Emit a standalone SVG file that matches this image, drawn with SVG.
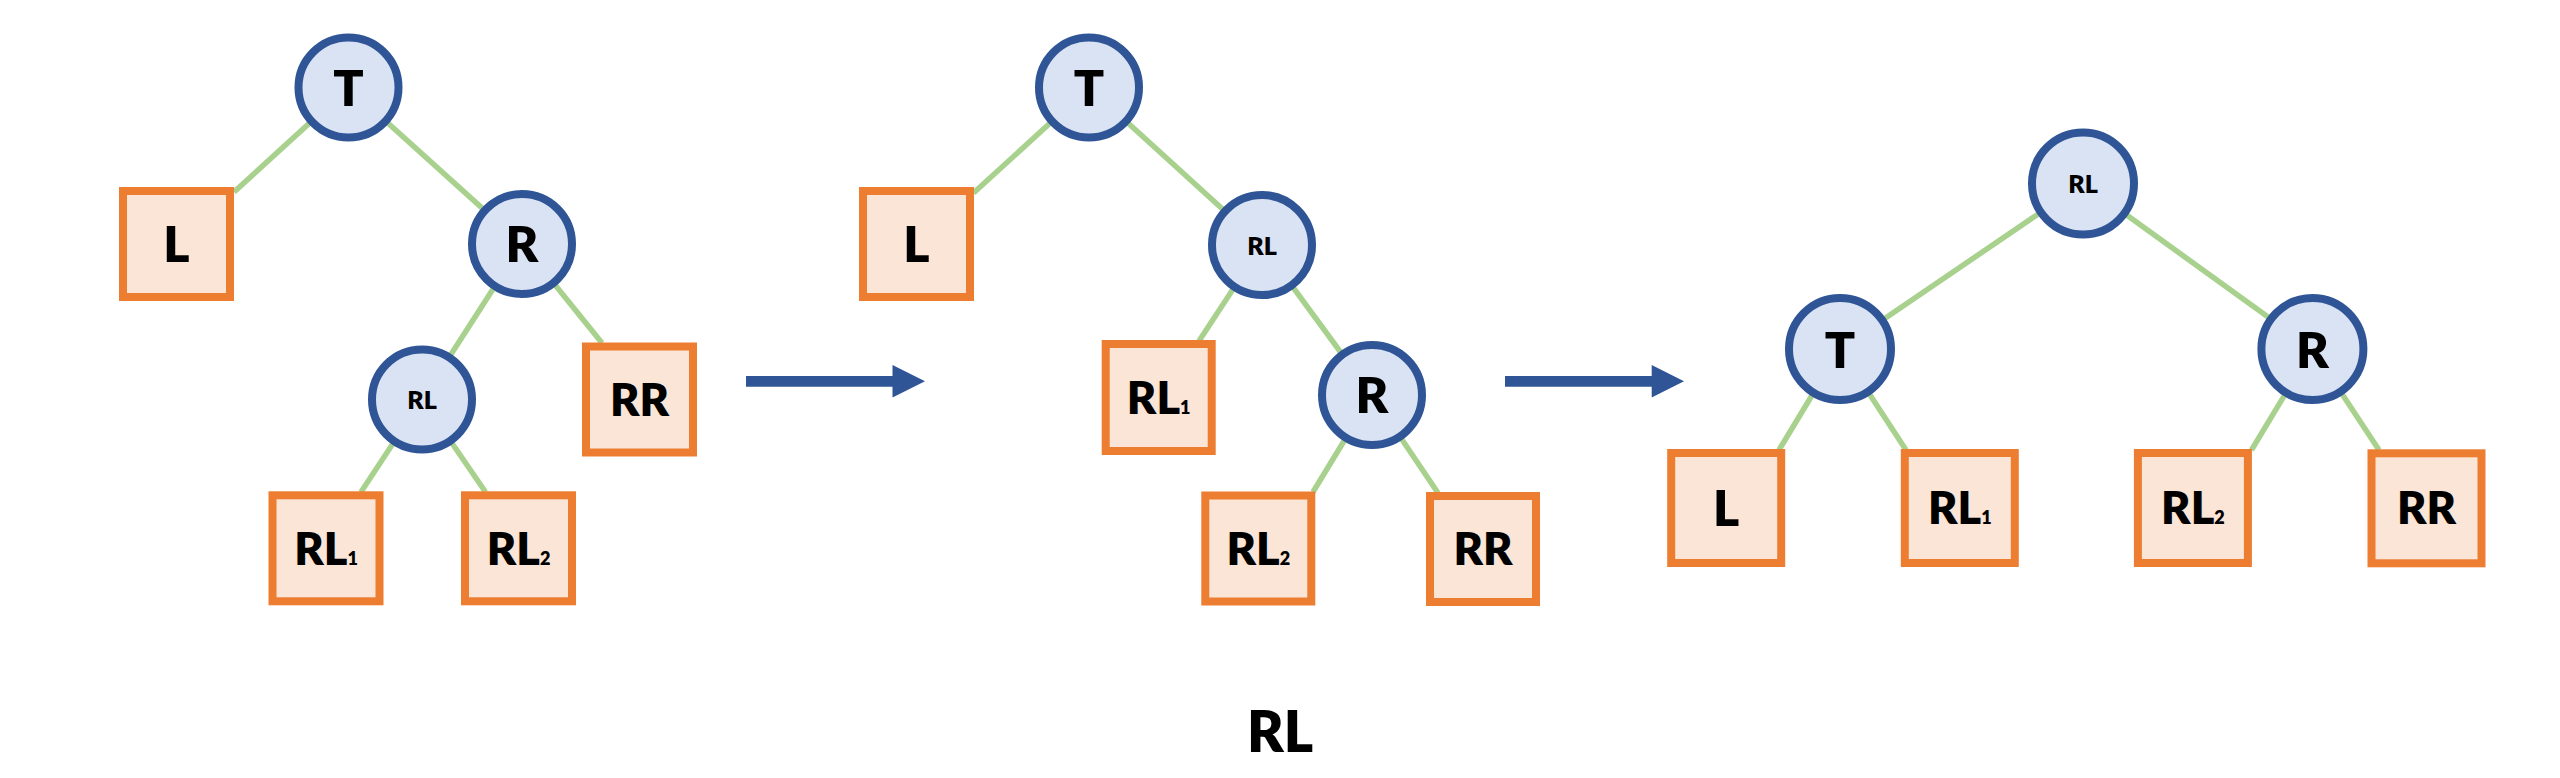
<svg xmlns="http://www.w3.org/2000/svg" width="2560" height="778" viewBox="0 0 2560 778">
<style>
.e{stroke:#A9D18E;stroke-width:5.5;fill:none}
.c{fill:#DAE3F3;stroke:#2F5597;stroke-width:8}
.b{fill:#FBE5D6;stroke:#ED7D31;stroke-width:8}
.t{font-family:Lato,"Open Sans","Liberation Sans",sans-serif;font-weight:800;fill:#000;text-anchor:middle}
.big{font-size:50px}
.mid{font-size:45px}
.sm{font-size:25px}
.sub{font-size:18px}
.a{fill:#2F5597}
</style>
<rect width="2560" height="778" fill="#fff"/>
<g id="connectors">
<line class="e" x1="348.5" y1="87.5" x2="234" y2="192"/>
<line class="e" x1="348.5" y1="87.5" x2="522" y2="244"/>
<line class="e" x1="522" y1="244" x2="422" y2="399.5"/>
<line class="e" x1="522" y1="244" x2="602" y2="343"/>
<line class="e" x1="422" y1="399.5" x2="361" y2="492"/>
<line class="e" x1="422" y1="399.5" x2="485.5" y2="492"/>
<line class="e" x1="1089" y1="87.5" x2="973.5" y2="193"/>
<line class="e" x1="1089" y1="87.5" x2="1262" y2="245"/>
<line class="e" x1="1262" y1="245" x2="1199" y2="341"/>
<line class="e" x1="1262" y1="245" x2="1372" y2="395"/>
<line class="e" x1="1372" y1="395" x2="1313" y2="492"/>
<line class="e" x1="1372" y1="395" x2="1438" y2="493"/>
<line class="e" x1="2083" y1="183.5" x2="1840" y2="349"/>
<line class="e" x1="2083" y1="183.5" x2="2312.4" y2="349"/>
<line class="e" x1="1840" y1="349" x2="1779" y2="450"/>
<line class="e" x1="1840" y1="349" x2="1906" y2="450"/>
<line class="e" x1="2312.4" y1="349" x2="2251.5" y2="450"/>
<line class="e" x1="2312.4" y1="349" x2="2379" y2="450"/>
<polygon id="arrow1" class="a" points="746,376 892.5,376 892.5,365 925,381.3 892.5,397.5 892.5,386.7 746,386.7"/>
<polygon id="arrow2" class="a" points="1505,376 1651.7,376 1651.7,365 1684,381.3 1651.7,397.5 1651.7,386.7 1505,386.7"/>
</g>
<!-- Tree 1 -->
<g id="t1-T"><circle class="c" cx="348.5" cy="87.5" r="50"/><text class="t big" x="348.5" y="105.5">T</text></g>
<g id="t1-L"><rect class="b" x="123" y="191" width="107" height="106"/><text class="t big" x="176.5" y="262">L</text></g>
<g id="t1-R"><circle class="c" cx="522" cy="244" r="50"/><text class="t big" x="522" y="262">R</text></g>
<g id="t1-RL"><circle class="c" cx="422" cy="399.5" r="50"/><text class="t sm" x="422" y="409">RL</text></g>
<g id="t1-RR"><rect class="b" x="586" y="346.5" width="107" height="106"/><text class="t mid" x="639.5" y="415.5">RR</text></g>
<g id="t1-RL1"><rect class="b" x="272.5" y="495.3" width="107" height="106"/><text class="t mid" x="326" y="564.5">RL<tspan class="sub">1</tspan></text></g>
<g id="t1-RL2"><rect class="b" x="465" y="495.3" width="107" height="106"/><text class="t mid" x="518.5" y="564.5">RL<tspan class="sub">2</tspan></text></g>
<!-- Tree 2 -->
<g id="t2-T"><circle class="c" cx="1089" cy="87.5" r="50"/><text class="t big" x="1089" y="105.5">T</text></g>
<g id="t2-L"><rect class="b" x="863" y="191" width="107" height="106"/><text class="t big" x="916.5" y="262">L</text></g>
<g id="t2-RL"><circle class="c" cx="1262" cy="245" r="50"/><text class="t sm" x="1262" y="254.5">RL</text></g>
<g id="t2-RL1"><rect class="b" x="1105.7" y="344" width="106" height="107"/><text class="t mid" x="1158.7" y="413.5">RL<tspan class="sub">1</tspan></text></g>
<g id="t2-R"><circle class="c" cx="1372" cy="395" r="50"/><text class="t big" x="1372" y="413">R</text></g>
<g id="t2-RL2"><rect class="b" x="1205.3" y="495.5" width="106" height="106"/><text class="t mid" x="1258.3" y="564.5">RL<tspan class="sub">2</tspan></text></g>
<g id="t2-RR"><rect class="b" x="1430" y="496" width="106" height="106"/><text class="t mid" x="1483" y="565">RR</text></g>
<!-- Tree 3 -->
<g id="t3-RL"><circle class="c" cx="2083" cy="183.5" r="51"/><text class="t sm" x="2083" y="193">RL</text></g>
<g id="t3-T"><circle class="c" cx="1840" cy="349" r="51"/><text class="t big" x="1840" y="368">T</text></g>
<g id="t3-R"><circle class="c" cx="2312.4" cy="349" r="51"/><text class="t big" x="2312.4" y="368">R</text></g>
<g id="t3-L"><rect class="b" x="1671.2" y="453" width="110" height="110"/><text class="t big" x="1726.2" y="526">L</text></g>
<g id="t3-RL1"><rect class="b" x="1904.8" y="453" width="110" height="110"/><text class="t mid" x="1959.8" y="524">RL<tspan class="sub">1</tspan></text></g>
<g id="t3-RL2"><rect class="b" x="2137.9" y="453" width="110" height="110"/><text class="t mid" x="2192.9" y="524">RL<tspan class="sub">2</tspan></text></g>
<g id="t3-RR"><rect class="b" x="2371.5" y="453.3" width="110" height="110"/><text class="t mid" x="2426.5" y="524">RR</text></g>
<text id="caption" class="t" style="font-size:56px" x="1280" y="752">RL</text>
</svg>
